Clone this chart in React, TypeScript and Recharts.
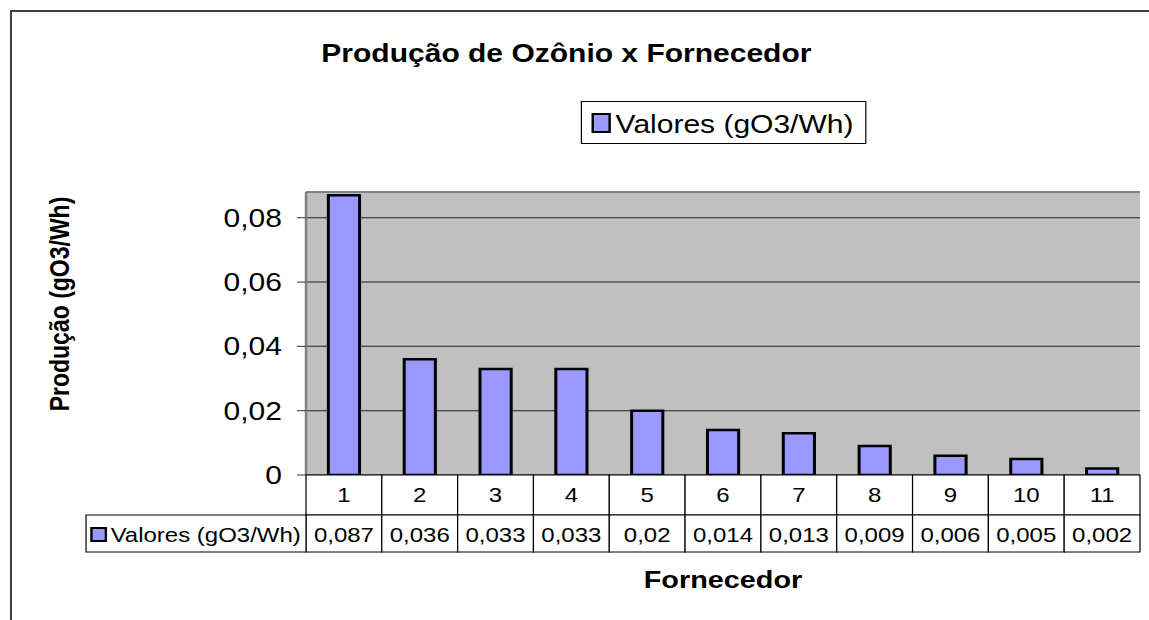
import React from "react";
import { BarChart, Bar, XAxis, YAxis, CartesianGrid, ReferenceLine } from "recharts";

// data
const suppliers = ["1", "2", "3", "4", "5", "6", "7", "8", "9", "10", "11"];
const production = [0.087, 0.036, 0.033, 0.033, 0.02, 0.014, 0.013, 0.009, 0.006, 0.005, 0.002];
const yTicks = [0, 0.02, 0.04, 0.06, 0.08];
const seriesName = "Valores (gO3/Wh)";
const chartTitle = "Produção de Ozônio x Fornecedor";
const xTitle = "Fornecedor";
const yTitle = "Produção (gO3/Wh)";

const Y_MAX = 0.088;

// the original picture is stretched horizontally, so draw narrow and scale
const SX = 1.2;
const W = 1149 / SX;
const H = 620;
const PLOT_LEFT = 255;
const PLOT_RIGHT = 950;
const PLOT_TOP = 192;
const PLOT_BOTTOM = 475;
const BAND = (PLOT_RIGHT - PLOT_LEFT) / suppliers.length;
const ROW1 = 40;
const ROW2 = 37;
const TABLE_LEFT = 71.7;

const FONT = '"Liberation Sans", Arial, sans-serif';
const BAR_FILL = "#9999FF";

const fmt = (v: number) => (v === 0 ? "0" : String(v).replace(".", ","));
const fmtTick = (v: number) => (v === 0 ? "0" : v.toFixed(2).replace(".", ","));

const chartData = suppliers.map((s, i) => ({ name: s, value: production[i] }));

function TableTick(props: any) {
  const { x, y, payload, index } = props;
  const left = x - BAND / 2;
  return (
    <g>
      <rect x={left} y={y} width={BAND} height={ROW1} fill="#fff" stroke="#000" />
      <text x={x} y={y + 27} textAnchor="middle" fontSize={20} fill="#000">
        {payload.value}
      </text>
      <rect x={left} y={y + ROW1} width={BAND} height={ROW2} fill="#fff" stroke="#000" />
      <text x={x} y={y + ROW1 + 27} textAnchor="middle" fontSize={20} fill="#000">
        {fmt(production[index])}
      </text>
      {index === 0 && (
        <g>
          <rect
            x={TABLE_LEFT}
            y={y + ROW1}
            width={left - TABLE_LEFT}
            height={ROW2}
            fill="#fff"
            stroke="#000"
          />
          <rect
            x={TABLE_LEFT + 4.5}
            y={y + ROW1 + 13}
            width={12}
            height={13}
            fill={BAR_FILL}
            stroke="#000"
            strokeWidth={2}
          />
          <text x={TABLE_LEFT + 20.5} y={y + ROW1 + 27} fontSize={20} fill="#000">
            {seriesName}
          </text>
        </g>
      )}
    </g>
  );
}

export default function App() {
  return (
    <div style={{ position: "absolute", left: 0, top: 0, width: 1149, height: H, background: "#fff", fontFamily: FONT }}>
      <div
        style={{
          position: "absolute",
          left: 10,
          top: 10,
          width: 1149,
          height: H,
          borderLeft: "2px solid #404040",
          borderTop: "2px solid #404040",
        }}
      />
      <div
        style={{
          position: "absolute",
          left: 0,
          top: 0,
          width: W,
          height: H,
          transform: `scaleX(${SX})`,
          transformOrigin: "0 0",
        }}
      >
        <div
          style={{
            position: "absolute",
            left: 0,
            width: 944,
            top: 41,
            textAlign: "center",
            fontSize: 25,
            lineHeight: "25px",
            fontWeight: "bold",
            color: "#000",
            whiteSpace: "nowrap",
          }}
        >
          {chartTitle}
        </div>

        <BarChart
          width={W}
          height={H}
          data={chartData}
          margin={{ top: PLOT_TOP, right: W - PLOT_RIGHT, bottom: H - PLOT_BOTTOM - ROW1 - ROW2, left: 0 }}
          barCategoryGap="29.5%"
        >
          <CartesianGrid vertical={false} fill="#C0C0C0" stroke="#222" strokeWidth={1} />
          <XAxis
            dataKey="name"
            height={ROW1 + ROW2}
            interval={0}
            tickSize={0}
            tickMargin={0}
            tickLine={false}
            axisLine={false}
            tick={<TableTick />}
          />
          <YAxis
            width={PLOT_LEFT}
            domain={[0, Y_MAX]}
            ticks={yTicks}
            interval={0}
            tickFormatter={fmtTick}
            tickSize={7.5}
            tickMargin={12.5}
            tickLine={{ stroke: "#333" }}
            axisLine={{ stroke: "#808080", strokeWidth: 2 }}
            tick={{ fontSize: 25, fill: "#000" }}
          />
          <YAxis
            yAxisId="right"
            orientation="right"
            width={0}
            domain={[0, Y_MAX]}
            tick={false}
            tickLine={false}
            axisLine={{ stroke: "#808080", strokeWidth: 2 }}
          />
          <ReferenceLine y={Y_MAX} stroke="#808080" strokeWidth={2} />
          <Bar dataKey="value" name={seriesName} fill={BAR_FILL} stroke="#000" strokeWidth={2.5} isAnimationActive={false} />
        </BarChart>

        {/* legend box */}
        <div
          style={{
            position: "absolute",
            left: 484,
            top: 101,
            width: 238,
            height: 43,
            boxSizing: "border-box",
            border: "1px solid #000",
            background: "#fff",
          }}
        >
          <div
            style={{
              position: "absolute",
              left: 7.5,
              top: 11,
              width: 16,
              height: 20,
              boxSizing: "border-box",
              border: "2px solid #000",
              background: BAR_FILL,
            }}
          />
          <div
            style={{
              position: "absolute",
              left: 28,
              top: 10,
              fontSize: 25,
              lineHeight: "25px",
              color: "#000",
              whiteSpace: "nowrap",
            }}
          >
            {seriesName}
          </div>
        </div>

        <div
          style={{
            position: "absolute",
            left: 50,
            top: 304,
            transform: "translate(-50%, -50%) rotate(-90deg)",
            fontSize: 23,
            lineHeight: "23px",
            fontWeight: "bold",
            color: "#000",
            whiteSpace: "nowrap",
          }}
        >
          {yTitle}
        </div>

        <div
          style={{
            position: "absolute",
            left: 402.5,
            width: 400,
            top: 568,
            textAlign: "center",
            fontSize: 24,
            lineHeight: "24px",
            fontWeight: "bold",
            color: "#000",
          }}
        >
          {xTitle}
        </div>
      </div>
    </div>
  );
}
